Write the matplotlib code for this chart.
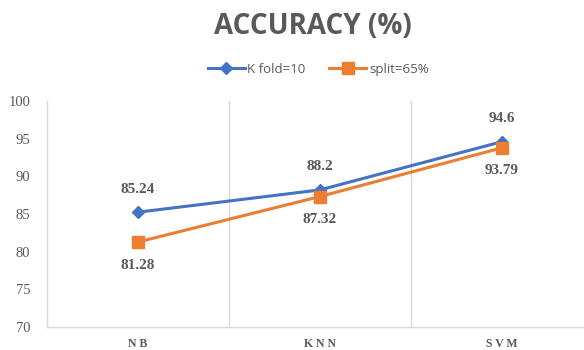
import matplotlib.pyplot as plt
from matplotlib.ticker import FixedLocator, NullFormatter

categories = ['N B', 'K N N', 'S V M']
kfold = [85.24, 88.2, 94.6]
split = [81.28, 87.32, 93.79]
yticks = [70, 75, 80, 85, 90, 95, 100]

blue = '#4472C4'
orange = '#ED7D31'
grey = '#595959'

fig = plt.figure(figsize=(5.84, 3.5), dpi=100)
ax = fig.add_axes([47 / 584, 1 - 327 / 350, 546 / 584, 226 / 350])

x = list(range(len(categories)))
ax.plot(x, kfold, color=blue, lw=2.2, marker='D', ms=6, label='K fold=10')
ax.plot(x, split, color=orange, lw=2.2, marker='s', ms=8, label='split=65%')

for xi, v in zip(x, kfold):
    ax.annotate(f'{v:g}', (xi, v), xytext=(0, 12), textcoords='offset points',
                ha='center', va='bottom', fontsize=11, fontweight='bold',
                family='Liberation Serif', color=grey)
for xi, v in zip(x, split):
    ax.annotate(f'{v:g}', (xi, v), xytext=(0, -12), textcoords='offset points',
                ha='center', va='top', fontsize=11, fontweight='bold',
                family='Liberation Serif', color=grey)

ax.set_xlim(-0.5, 2.5)
ax.set_ylim(70, 100)
ax.set_yticks(yticks)
ax.set_xticks(x)
ax.set_xticklabels(categories, fontsize=8.5, fontweight='bold',
                   family='Liberation Serif', color=grey)
ax.set_yticklabels([str(t) for t in yticks], fontsize=10.5,
                   family='Liberation Serif', color=grey)
ax.tick_params(axis='both', length=0)
ax.tick_params(axis='y', pad=12)
ax.tick_params(axis='x', pad=8)

# vertical separators between categories
ax.xaxis.set_minor_locator(FixedLocator([0.5, 1.5]))
ax.xaxis.set_minor_formatter(NullFormatter())
ax.tick_params(axis='x', which='minor', length=0)
ax.grid(axis='x', which='minor', color='#D9D9D9', lw=1)

for s in ['top', 'right']:
    ax.spines[s].set_visible(False)
for s in ['left', 'bottom']:
    ax.spines[s].set_color('#D9D9D9')
    ax.spines[s].set_linewidth(1)

fig.text(0.536, 0.925, 'ACCURACY (%)', ha='center', va='center',
         fontsize=20, fontweight='bold', family='Open Sans', color=grey)

leg = fig.legend(loc='center', bbox_to_anchor=(0.545, 0.802), ncol=2, frameon=False,
                 handlelength=2.8, columnspacing=1.8, handletextpad=0.2,
                 prop={'family': 'Open Sans', 'size': 9.5})
for t in leg.get_texts():
    t.set_color(grey)

fig.savefig('out.png', dpi=100)
